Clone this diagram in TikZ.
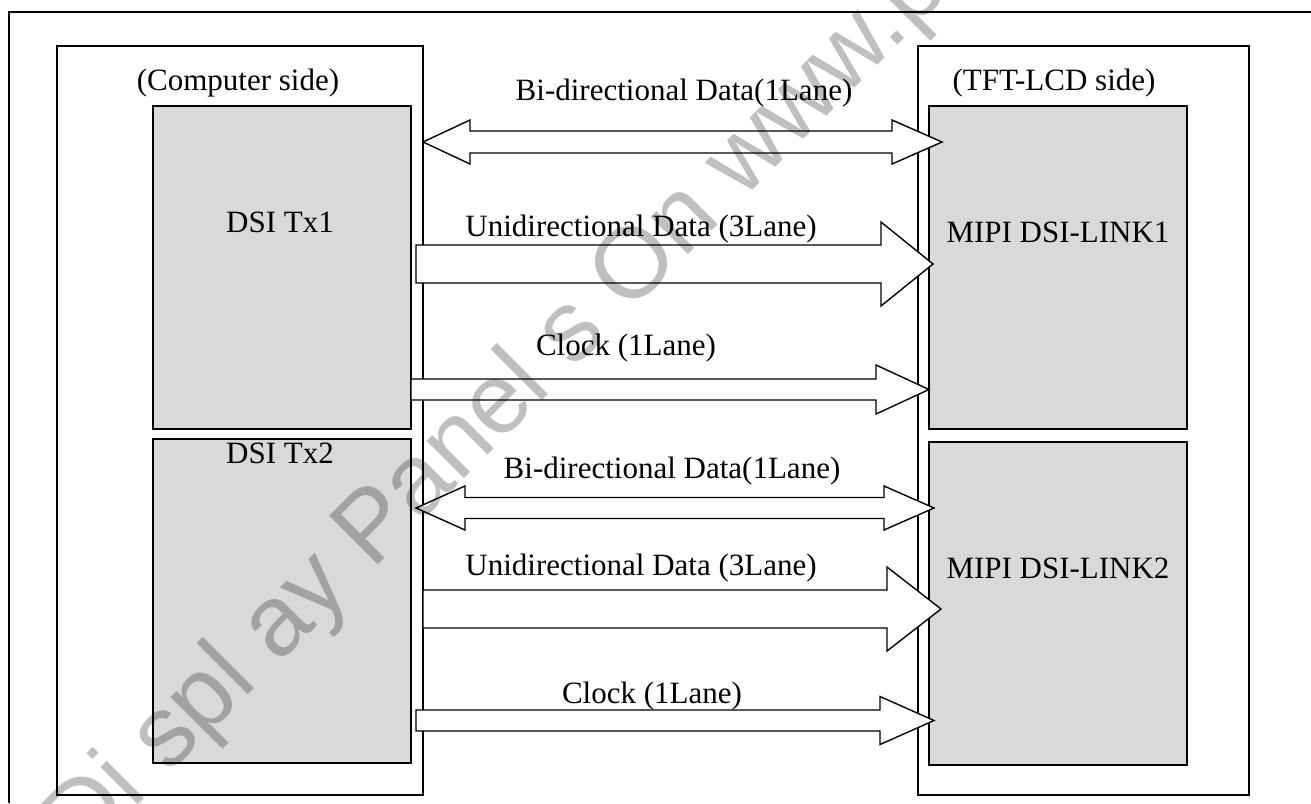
\documentclass[tikz,border=0pt]{standalone}
\usepackage{fontspec}
\setmainfont{Liberation Serif}
\newfontfamily\wmfont{Liberation Sans}
\definecolor{boxgray}{HTML}{D9D9D9}
\newcommand\UArrow[6]{\draw[blk] (#1,#4-#5) -- (#2,#4-#5) -- (#2,#4-#6) -- (#3,#4) -- (#2,#4+#6) -- (#2,#4+#5) -- (#1,#4+#5) -- cycle;}
\newcommand\BArrow[7]{\draw[blk] (#1,#5) -- (#2,#5-#7) -- (#2,#5-#6) -- (#3,#5-#6) -- (#3,#5-#7) -- (#4,#5) -- (#3,#5+#7) -- (#3,#5+#6) -- (#2,#5+#6) -- (#2,#5+#7) -- cycle;}
\begin{document}
\begin{tikzpicture}[x=1pt,y=-1pt,
  boxw/.style={draw=black, line width=1.6pt, fill=white, inner sep=0pt, outer sep=0pt, anchor=north west},
  boxg/.style={draw=black, line width=1.6pt, fill=boxgray, inner sep=0pt, outer sep=0pt, anchor=north west},
  blk/.style={draw=black, line width=1.4pt, fill=white, line join=miter},
  lbl/.style={font=\fontsize{31}{36}\selectfont, anchor=base, inner sep=0pt}]
\useasboundingbox (0,0) rectangle (1311,803);
% outer frame (only left and top edges visible)
\coordinate (fbl) at (9,803);
\coordinate (ftl) at (9,12);
\coordinate (ftr) at (1311,12);
\draw[line width=1.6pt] (fbl) -- (ftl) -- (ftr);
% side boxes
\node[boxw, minimum width=366pt, minimum height=749pt] (leftbox) at (57,46) {};
\node[boxw, minimum width=331pt, minimum height=749pt] (rightbox) at (918,46) {};
\node[boxg, minimum width=258pt, minimum height=323pt] (tx1) at (153,106) {};
\node[boxg, minimum width=258pt, minimum height=324pt] (tx2) at (153,439) {};
\node[boxg, minimum width=258pt, minimum height=323pt] (link1) at (929,106) {};
\node[boxg, minimum width=258pt, minimum height=323pt] (link2) at (929,442) {};
% labels
\node[lbl] (lcs) at (238,90) {(Computer side)};
\node[lbl] (ltft) at (1054,90) {(TFT-LCD side)};
\node[lbl] (ltx1) at (280,232) {DSI Tx1};
\node[lbl] (ltx2) at (280,463) {DSI Tx2};
\node[lbl] (llk1) at (1058,242) {MIPI DSI-LINK1};
\node[lbl] (llk2) at (1058,578) {MIPI DSI-LINK2};
% arrows, link 1
\BArrow{423}{470}{892}{942}{142}{11}{22}
\UArrow{416}{881}{933}{264}{19}{42}
\UArrow{411}{876}{929}{389.5}{10.5}{24.5}
% arrows, link 2
\BArrow{416}{465}{884}{934}{508}{10.5}{22}
\UArrow{423}{887}{941}{609}{19}{42}
\UArrow{416}{880}{934}{720.5}{10.5}{24}
% arrow labels
\node[lbl] (a1) at (684,100) {Bi-directional Data(1Lane)};
\node[lbl] (a2) at (641,236) {Unidirectional Data (3Lane)};
\node[lbl] (a3) at (626,355) {Clock (1Lane)};
\node[lbl] (a4) at (672,478) {Bi-directional Data(1Lane)};
\node[lbl] (a5) at (641,575) {Unidirectional Data (3Lane)};
\node[lbl] (a6) at (652,703) {Clock (1Lane)};
% watermark
\node[rotate=45, anchor=base west, inner sep=0pt, text opacity=0.25,
      font=\wmfont\fontsize{100}{100}\selectfont] (wm) at (82,861) {Di spl ay Panel s On www.pa};
\end{tikzpicture}
\end{document}
